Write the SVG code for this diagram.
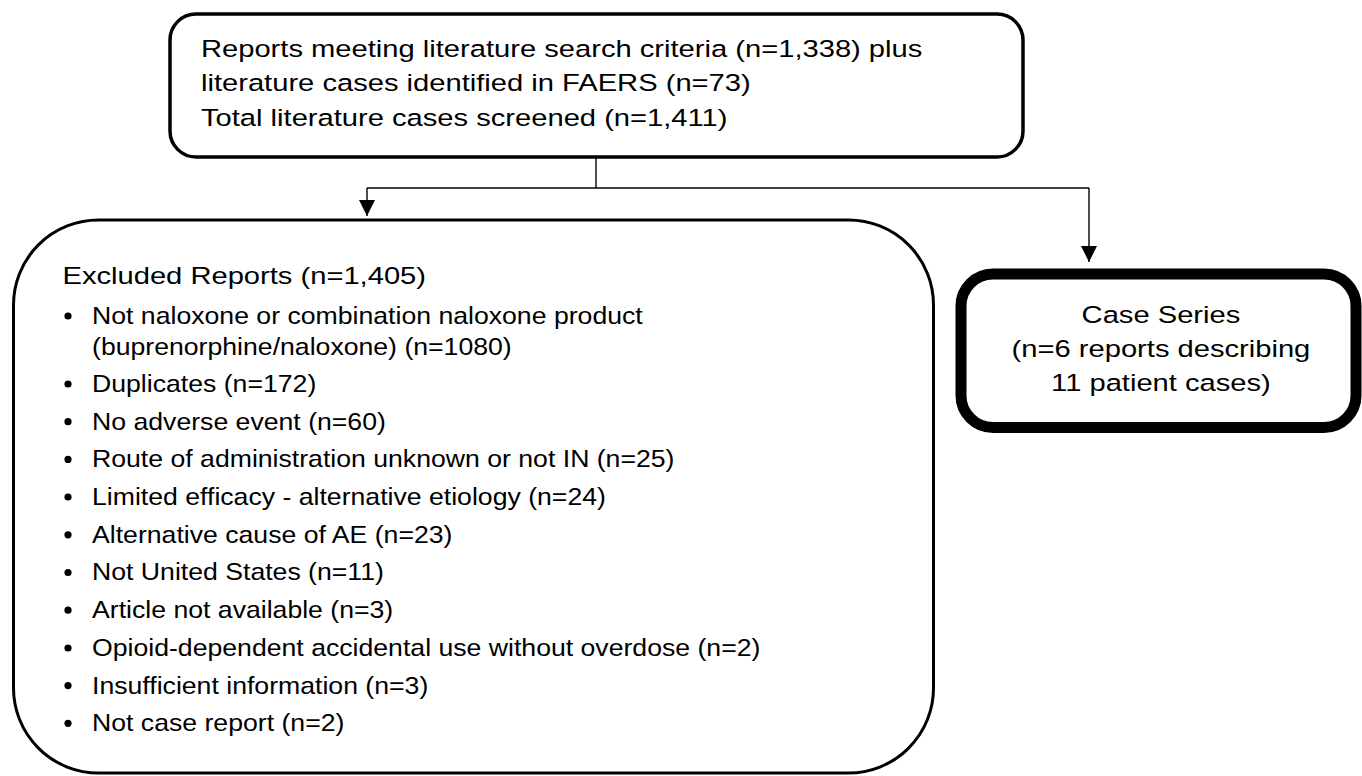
<svg xmlns="http://www.w3.org/2000/svg" width="1362" height="776" viewBox="0 0 1362 776">
<defs>
<style>
.box{fill:#fff;stroke:#000}
.t{font-family:"Liberation Sans",Arial,sans-serif;font-size:24.5px;fill:#000}
.b{font-family:"Liberation Sans",Arial,sans-serif;font-size:24px;fill:#000}
.c{text-anchor:middle}
.conn{fill:none;stroke:#000;stroke-width:1.4}
</style>
<marker id="ah" markerWidth="16" markerHeight="16" viewBox="0 0 16 16" refX="16" refY="8" orient="auto" markerUnits="userSpaceOnUse">
<path d="M0,0 L16,8 L0,16 Z" fill="#000"/>
</marker>
</defs>
<rect width="1362" height="776" fill="#fff"/>
<g id="connectors">
<path class="conn" d="M596,157 V188"/>
<path class="conn" d="M367,188 H1089"/>
<path class="conn" d="M367,188 V216" marker-end="url(#ah)"/>
<path class="conn" d="M1089,188 V262" marker-end="url(#ah)"/>
</g>
<g id="screened">
<rect class="box" x="170" y="14" width="853" height="143" rx="26" ry="26" stroke-width="3.5"/>
<g transform="scale(1.19,1)">
<text class="t" x="168.9" y="57">Reports meeting literature search criteria (n=1,338) plus</text>
<text class="t" x="168.9" y="91.5">literature cases identified in FAERS (n=73)</text>
<text class="t" x="168.9" y="126">Total literature cases screened (n=1,411)</text>
</g>
</g>
<g id="excluded">
<rect class="box" x="13.5" y="220" width="920" height="553" rx="85" ry="85" stroke-width="3"/>
<g fill="#000">
<circle cx="68" cy="316" r="3.6"/>
<circle cx="68" cy="384" r="3.6"/>
<circle cx="68" cy="421.7" r="3.6"/>
<circle cx="68" cy="459.4" r="3.6"/>
<circle cx="68" cy="497" r="3.6"/>
<circle cx="68" cy="534.8" r="3.6"/>
<circle cx="68" cy="572.5" r="3.6"/>
<circle cx="68" cy="610.2" r="3.6"/>
<circle cx="68" cy="648" r="3.6"/>
<circle cx="68" cy="685.6" r="3.6"/>
<circle cx="68" cy="723.3" r="3.6"/>
</g>
<g transform="scale(1.19,1)">
<text class="t" x="52.5" y="284">Excluded Reports (n=1,405)</text>
</g>
<g transform="scale(1.11,1)">
<text class="b" x="82.9" y="324">Not naloxone or combination naloxone product</text>
<text class="b" x="82.9" y="355">(buprenorphine/naloxone) (n=1080)</text>
<text class="b" x="82.9" y="392">Duplicates (n=172)</text>
<text class="b" x="82.9" y="429.7">No adverse event (n=60)</text>
<text class="b" x="82.9" y="467.4">Route of administration unknown or not IN (n=25)</text>
<text class="b" x="82.9" y="505">Limited efficacy - alternative etiology (n=24)</text>
<text class="b" x="82.9" y="542.8">Alternative cause of AE (n=23)</text>
<text class="b" x="82.9" y="580.5">Not United States (n=11)</text>
<text class="b" x="82.9" y="618.2">Article not available (n=3)</text>
<text class="b" x="82.9" y="656">Opioid-dependent accidental use without overdose (n=2)</text>
<text class="b" x="82.9" y="693.6">Insufficient information (n=3)</text>
<text class="b" x="82.9" y="731.3">Not case report (n=2)</text>
</g>
</g>
<g id="case-series">
<rect class="box" x="961" y="274" width="395" height="153.5" rx="32" ry="32" stroke-width="11"/>
<g transform="scale(1.19,1)">
<text class="t c" x="975.6" y="323">Case Series</text>
<text class="t c" x="975.6" y="357">(n=6 reports describing</text>
<text class="t c" x="975.6" y="391">11 patient cases)</text>
</g>
</g>
</svg>
